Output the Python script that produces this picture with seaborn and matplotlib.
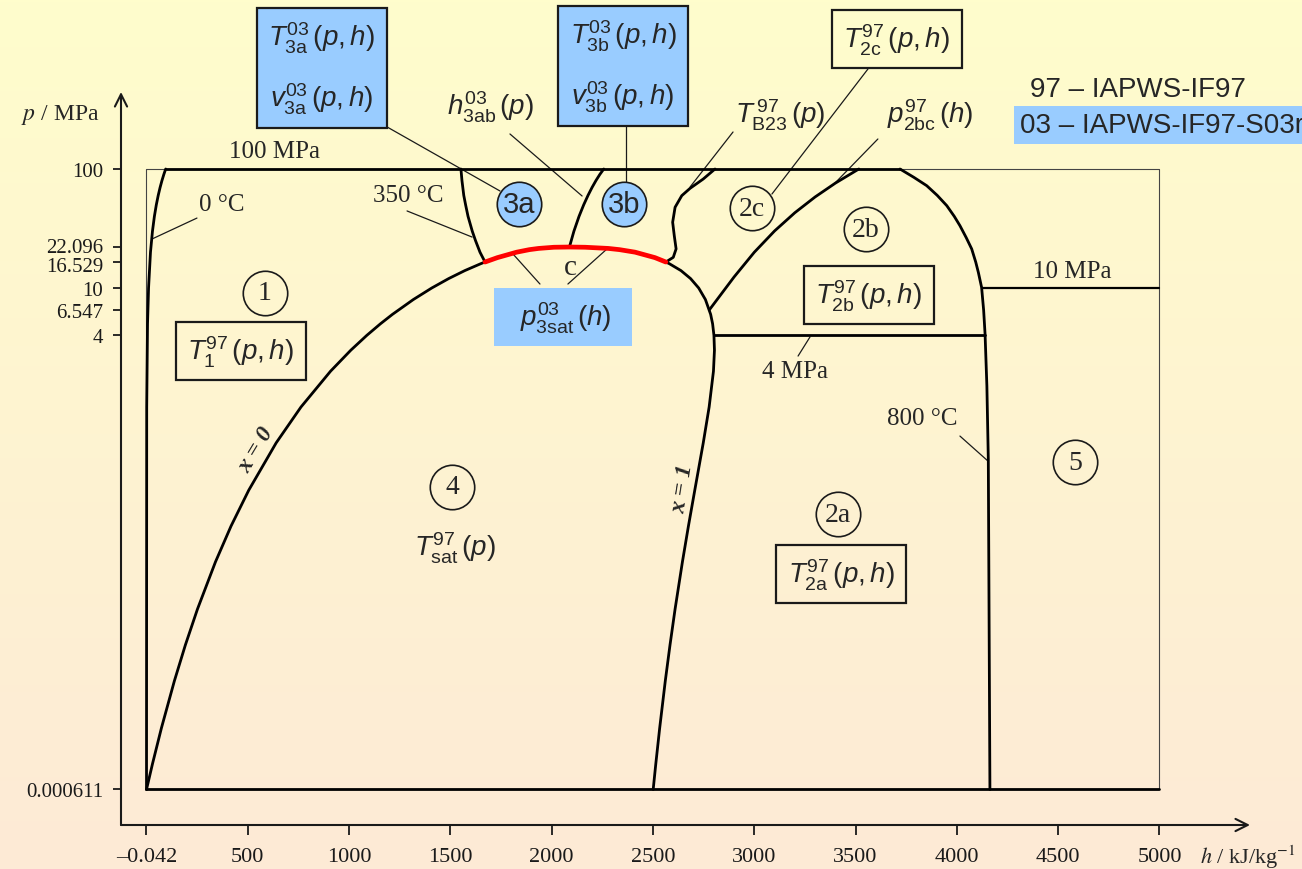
import numpy as np
import matplotlib
matplotlib.use("Agg")
import matplotlib.pyplot as plt
import matplotlib.transforms as mtransforms
import seaborn as sns
from matplotlib.colors import LinearSegmentedColormap
from matplotlib.ticker import NullLocator

sns.set_theme(style="ticks")
plt.rcParams['font.family'] = ['Liberation Serif', 'DejaVu Serif']
plt.rcParams['mathtext.fontset'] = 'custom'
plt.rcParams['mathtext.rm'] = 'Liberation Sans'
plt.rcParams['mathtext.it'] = 'Liberation Sans:italic'
plt.rcParams['mathtext.bf'] = 'Liberation Sans:bold'

# ---------------- data ----------------
h_min, h_max = -0.042, 5000.0
p_min, p_max = 0.000611, 100.0

# saturation line (x = 0 / x = 1)
p_sat = [0.000611, 0.001, 0.002, 0.005, 0.01, 0.02, 0.05, 0.1, 0.2, 0.5, 1, 2, 3, 4, 5, 6,
         8, 10, 12, 14, 16, 16.529, 18, 20, 21, 21.5, 22, 22.096]
h_liq = [0.0, 29.3, 73.4, 137.7, 191.8, 251.4, 340.5, 417.4, 504.7, 640.1, 762.5, 908.5,
         1008.3, 1087.4, 1154.5, 1213.7, 1317.1, 1408.0, 1491.5, 1571.0, 1649.7, 1670.9,
         1732.0, 1827.1, 1889.6, 1935.0, 2011.0, 2087.0]
h_vap = [2500.9, 2513.7, 2532.9, 2560.7, 2583.9, 2608.9, 2645.2, 2674.9, 2706.2, 2748.1,
         2777.1, 2798.4, 2803.3, 2800.8, 2794.2, 2784.6, 2758.7, 2725.5, 2685.4, 2638.1,
         2580.8, 2563.6, 2509.5, 2411.4, 2335.0, 2280.0, 2165.0, 2087.0]
i34 = 21  # index of 16.529 MPa

# 0 degC isotherm
p_0C = [0.000611, 1, 5, 10, 20, 30, 40, 50, 60, 70, 80, 90, 100]
h_0C = [0.0, 1.0, 5.0, 10.1, 19.6, 29.4, 38.9, 48.4, 57.8, 67.1, 76.3, 85.5, 94.6]

# 350 degC isotherm (boundary 1/3)
p_350 = [16.529, 20, 25, 30, 40, 50, 60, 80, 100]
h_350 = [1670.9, 1646, 1624, 1608, 1587, 1575, 1566, 1557, 1552]

# h_3ab(p)
p_3ab = [22.096, 30, 40, 50, 60, 70, 80, 90, 100]
h_3ab = [2087.5, 2109.6, 2134.9, 2157.9, 2179.2, 2199.2, 2218.5, 2237.5, 2256.9]

# B23 boundary
p_B23 = [16.529, 18.1, 21.3, 27.5, 35.7, 47.7, 59.7, 68.8, 82.4, 100]
h_B23 = [2563.6, 2600, 2614, 2605, 2597, 2609, 2642, 2683, 2748, 2806]

# 2bc boundary
h_2bc = [2778, 2900, 3000, 3100, 3200, 3300, 3400, 3516]
p_2bc = [6.546, 12.37, 19.98, 30.15, 42.89, 58.20, 76.06, 100]

# 800 degC isotherm
p_800 = [100, 85.0, 72.4, 60.0, 49.2, 40.0, 33.4, 26.5, 21.3, 16.5, 13.5, 10.1, 6.5, 4.1,
         1.5, 0.366, 0.000611]
h_800 = [3719, 3788, 3851, 3903, 3950, 3987, 4015, 4046, 4073, 4093, 4106, 4122, 4132, 4139,
         4148, 4155, 4163]

# isobars
h_4MPa = [2800.8, 4139]
p_4MPa = [4, 4]
h_10MPa = [4122, 5000]
p_10MPa = [10, 10]

xticks = [-0.042, 500, 1000, 1500, 2000, 2500, 3000, 3500, 4000, 4500, 5000]
xticklabels = ['\u20130.042', '500', '1000', '1500', '2000', '2500', '3000', '3500',
               '4000', '4500', '5000']
yticks = [100, 22.096, 16.529, 10, 6.547, 4, 0.000611]
yticklabels = ['100', '22.096', '16.529', '10', '6.547', '4', '0.000611']

# ---------------- figure ----------------
W, H = 1302, 870
fig = plt.figure(figsize=(W / 100, H / 100), dpi=100)
bg = fig.add_axes([0, 0, 1, 1], zorder=-10)
grad = np.linspace(0, 1, 256).reshape(-1, 1)
cmap = LinearSegmentedColormap.from_list('bg', ['#FFFDCC', '#FDEAD6'])
bg.imshow(grad, aspect='auto', cmap=cmap, extent=[0, 1, 0, 1], origin='upper')
bg.axis('off')

ax = fig.add_axes([121 / W, 44 / H, 1129 / W, 733 / H])
ax.patch.set_alpha(0)
ax.set_yscale('log')
ax.set_xlim(-125.9, 5446.7)
ax.set_ylim(3.073e-4, 443.6)
for s in ax.spines.values():
    s.set_visible(False)

BLACK_LW = 2.0
def line(x, y, **kw):
    d = dict(color='black', lw=BLACK_LW, sort=False, estimator=None, ax=ax, zorder=3)
    d.update(kw)
    sns.lineplot(x=x, y=y, **d)

# frame
line([h_min, h_max, h_max, h_min, h_min], [p_min, p_min, p_max, p_max, p_min],
     color='#444444', lw=0.8, zorder=2)
# bottom and top thick lines
line([h_min, h_max], [p_min, p_min])
line([h_0C[-1], h_800[0]], [p_max, p_max])
# saturation dome
line(h_liq + h_vap[::-1], p_sat + p_sat[::-1])
line(h_0C, p_0C)
line(h_350, p_350)
line(h_3ab, p_3ab)
line(h_B23, p_B23)
line(h_2bc, p_2bc)
line(h_800, p_800)
line(h_4MPa, p_4MPa)
line(h_10MPa, p_10MPa, lw=1.6)
# p_3sat(h) in red
line(h_liq[i34:] + h_vap[i34:-1][::-1], p_sat[i34:] + p_sat[i34:-1][::-1],
     color='#FF0000', lw=3.4, zorder=4)

# axis arrows
for tip in [(1, 0), (0, 1)]:
    ax.annotate('', xy=tip, xytext=(0, 0), xycoords='axes fraction',
                arrowprops=dict(arrowstyle='->', lw=1.5, color='k', shrinkA=0, shrinkB=0,
                                mutation_scale=22))

ax.set_xticks(xticks)
ax.set_xticklabels(xticklabels, fontsize=16)
ax.set_yticks(yticks)
ax.set_yticklabels(yticklabels, fontsize=15)
ax.yaxis.set_minor_locator(NullLocator())
ax.tick_params(axis='x', bottom=True, direction='out', length=7, width=1.3, pad=9, colors='k')
ax.tick_params(axis='y', left=True, direction='out', length=6, width=1.3, pad=7, colors='k')
ax.set_xlabel('')
ax.set_ylabel('')
# nudge the two close tick labels apart slightly
ylabs = ax.get_yticklabels()
ylabs[1].set_transform(ylabs[1].get_transform() +
                       mtransforms.ScaledTranslation(0, 1.5 / 72, fig.dpi_scale_trans))
ylabs[2].set_transform(ylabs[2].get_transform() +
                       mtransforms.ScaledTranslation(0, -1.5 / 72, fig.dpi_scale_trans))

# axis titles
ax.text(5200, 1.686e-4, r'$h$ / kJ/kg$^{-1}$', fontsize=16, ha='left', va='center',
        math_fontfamily='stix')
ax.text(-427, 289.9, r'$p$ / MPa', fontsize=17, ha='center', va='center',
        math_fontfamily='stix')

# pointer lines
pointers = [
    ((249, 38.7), (27, 25.8)),
    ((1286, 44.4), (1607, 26.8)),
    ((1118, 263.2), (1745, 65.3)),
    ((1794, 196.9), (2150, 59.3)),
    ((2366, 238.9), (2366, 77.8)),
    ((2895, 204.6), (2683, 70.6)),
    ((3561, 692.3), (3087, 61.6)),
    ((3610, 178.7), (3389, 73.4)),
    ((1942, 10.8), (1809, 19.3)),
    ((2080, 10.8), (2273, 21.3)),
    ((3216, 2.68), (3275, 3.88)),
    ((4015, 0.570), (4153, 0.352)),
]
for (a, b) in pointers:
    ax.plot([a[0], b[0]], [a[1], b[1]], color='k', lw=0.9, zorder=2, clip_on=False)

# serif labels
for s, x, y, fs in [("100 MPa", 634, 141.7, 18), ("0 \u00b0C", 373, 50.8, 18),
                    ("350 \u00b0C", 1291, 60.5, 18), ("10 MPa", 4568, 13.9, 18),
                    ("4 MPa", 3201, 2.01, 18), ("800 \u00b0C", 3828, 0.809, 18),
                    ("c", 2090, 15.0, 21)]:
    ax.text(x, y, s, fontsize=fs, ha='center', va='center', zorder=6)

ax.text(540, 0.444, 'x = 0', fontsize=17, fontweight='bold', style='italic',
        rotation=59, ha='center', va='center', zorder=6)
ax.text(2645, 0.210, 'x = 1', fontsize=17, fontweight='bold', style='italic',
        rotation=81, ha='center', va='center', zorder=6)

# circled region numbers
for s, x, y in [("1", 585, 9.08), ("4", 1508, 0.213), ("2a", 3413, 0.126),
                ("2b", 3551, 31.3), ("2c", 2989, 47.0), ("5", 4583, 0.345)]:
    ax.plot([x], [y], 'o', ms=32, mfc='none', mec='k', mew=1.2, zorder=5)
    ax.text(x, y, s, fontsize=20, ha='center', va='center', zorder=6)
for s, x, y in [("3a", 1839, 50.8), ("3b", 2357, 50.8)]:
    ax.plot([x], [y], 'o', ms=32, mfc='#99CCFF', mec='k', mew=1.2, zorder=5)
    ax.text(x, y, s, fontsize=21, ha='center', va='center', family='Liberation Sans',
            zorder=6)

# formula labels
MFS = 20
box = dict(boxstyle='square,pad=0.4', fc='none', ec='k', lw=1.6)
blue_box = dict(boxstyle='square,pad=0.42', fc='#99CCFF', ec='k', lw=1.6)
for s, x, y in [(r'$T^{97}_{1}\,(p,h)$', 466, 2.96),
                (r'$T^{97}_{\mathrm{2a}}\,(p,h)$', 3428, 0.0395),
                (r'$T^{97}_{\mathrm{2b}}\,(p,h)$', 3566, 8.73),
                (r'$T^{97}_{\mathrm{2c}}\,(p,h)$', 3704, 1237)]:
    ax.text(x, y, s, fontsize=MFS, ha='center', va='center', bbox=box, zorder=6)

ax.text(866, 706, r'$T^{03}_{\mathrm{3a}}\,(p,h)$' + '\n' + r'$v^{03}_{\mathrm{3a}}\,(p,h)$',
        fontsize=MFS, ha='center', va='center', linespacing=2.0, bbox=blue_box, zorder=6)
ax.text(2352, 734, r'$T^{03}_{\mathrm{3b}}\,(p,h)$' + '\n' + r'$v^{03}_{\mathrm{3b}}\,(p,h)$',
        fontsize=MFS, ha='center', va='center', linespacing=2.0, bbox=blue_box, zorder=6)

for s, x, y in [(r'$T^{97}_{\mathrm{sat}}\,(p)$', 1523, 0.0666),
                (r'$h^{03}_{\mathrm{3ab}}\,(p)$', 1696, 338.3),
                (r'$T^{\,97}_{\mathrm{B23}}\,(p)$', 3127, 289.9),
                (r'$p^{97}_{\mathrm{2bc}}\,(h)$', 3867, 289.9)]:
    ax.text(x, y, s, fontsize=MFS, ha='center', va='center', zorder=6)

ax.text(2055, 5.70, '  ' + r'$p^{03}_{\mathrm{3sat}}\,(h)$' + '  ', fontsize=MFS,
        ha='center', va='center', family='Liberation Sans',
        bbox=dict(boxstyle='square,pad=0.4', fc='#99CCFF', ec='none'), zorder=6)

# legend text
fig.text(1030 / W, 1 - 90 / H, '97 \u2013 IAPWS-IF97', fontsize=20,
         family='Liberation Sans', ha='left', va='center')
fig.text(1020 / W, 1 - 126 / H, '03 \u2013 IAPWS-IF97-S03rev     ', fontsize=20,
         family='Liberation Sans', ha='left', va='center',
         bbox=dict(boxstyle='square,pad=0.22', fc='#99CCFF', ec='none'))

fig.savefig('out.png', dpi=100)
